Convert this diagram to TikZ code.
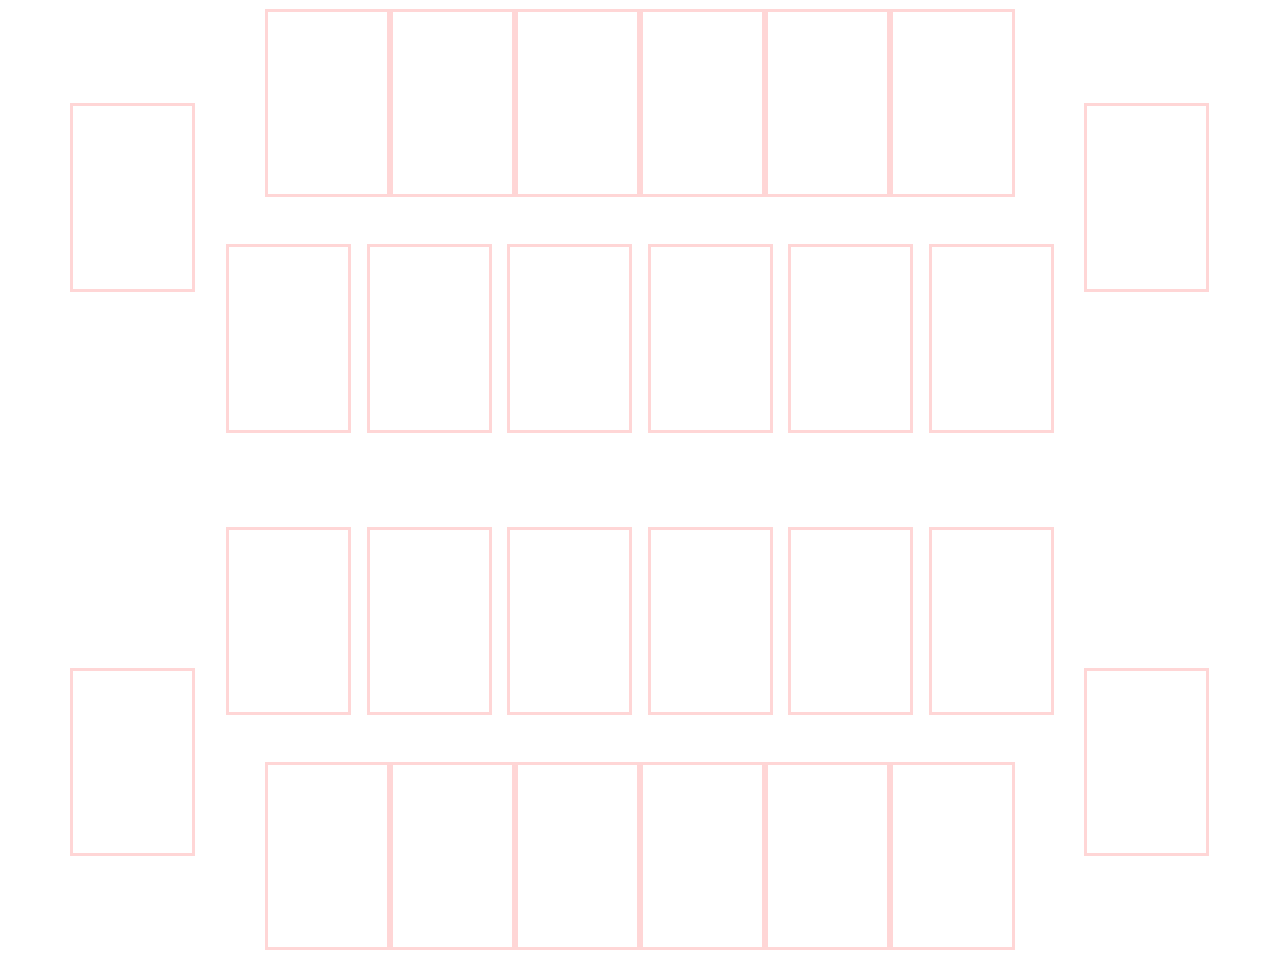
\documentclass[tikz,border=0pt]{standalone}
\definecolor{boxpink}{RGB}{255,214,214}
\tikzset{seat/.style={draw=boxpink, line width=3pt, minimum width=122pt, minimum height=185pt, inner sep=0pt, fill=white}}
\begin{document}
\begin{tikzpicture}[x=1pt,y=-1pt]
\useasboundingbox[fill=white] (0,0) rectangle (1280,960);
% side boxes
\node[seat] (l1) at (132,197.5) {};
\node[seat] (l2) at (132,761.5) {};
\node[seat] (r1) at (1146,197.5) {};
\node[seat] (r2) at (1146,761.5) {};
% top row
\foreach \i/\x in {1/327,2/452,3/577,4/702,5/827,6/952}{
  \node[seat] (t\i) at (\x,103.5) {};
}
% second row
\foreach \i/\x in {1/288.5,2/429.5,3/569.5,4/710.5,5/850.5,6/991.5}{
  \node[seat] (a\i) at (\x,338.5) {};
}
% third row
\foreach \i/\x in {1/288.5,2/429.5,3/569.5,4/710.5,5/850.5,6/991.5}{
  \node[seat] (b\i) at (\x,620.5) {};
}
% bottom row
\foreach \i/\x in {1/327,2/452,3/577,4/702,5/827,6/952}{
  \node[seat] (u\i) at (\x,855.5) {};
}
\end{tikzpicture}
\end{document}
